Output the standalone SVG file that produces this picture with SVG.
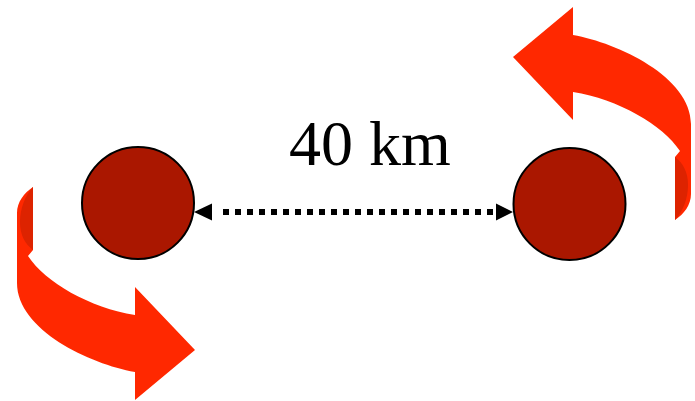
<svg xmlns="http://www.w3.org/2000/svg" xmlns:xlink="http://www.w3.org/1999/xlink" width="695" height="401" viewBox="0 0 695 401">
<style>
.node{fill:#AA1700;stroke:#000;stroke-width:2}
.band{fill:#FF2800}
.back{fill:#DD2300}
.link{stroke:#000;stroke-width:6;stroke-dasharray:6 6;fill:none}
.head{fill:#000}
.label{font-family:"Liberation Serif","Times New Roman",serif;font-size:64px;fill:#000}
</style>
<defs>
<g id="curl">
<path class="band" d="M33 187 L33 250 L28 256 C45 282 90 308 135 315 L135 287 L195 350 L135 400 L135 372 C90 364 17 330 17 283 L17 213 C17 202 24 193 33 187 Z"/>
<path class="back" d="M33 187 C25 196 20 208 20 222 C20 235 25 244 33 250 Z"/>
</g>
</defs>
<g id="arrow-left-bottom"><use xlink:href="#curl" href="#curl"/></g>
<g id="arrow-right-top"><use xlink:href="#curl" href="#curl" transform="rotate(180 354 203.5)"/></g>
<g id="connectors">
<line class="link" x1="223" y1="212" x2="495" y2="212"/>
<polygon class="head" points="194,212 212,203.5 212,220.5"/>
<polygon class="head" points="513,212 496,203.5 496,220.5"/>
</g>
<g id="node-left"><circle class="node" cx="138" cy="203" r="56"/></g>
<g id="node-right"><circle class="node" cx="569.5" cy="204" r="56"/></g>
<g id="label"><text class="label" x="289" y="165">40 km</text></g>
</svg>
